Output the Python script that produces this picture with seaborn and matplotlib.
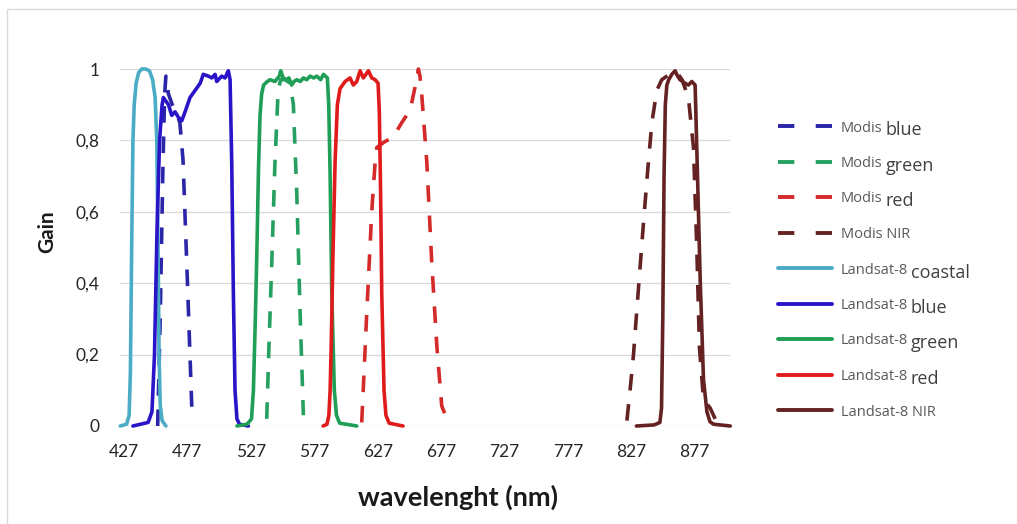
import matplotlib
matplotlib.use("Agg")
import matplotlib.pyplot as plt
import matplotlib.patches as mpatches
from matplotlib.lines import Line2D
import seaborn as sns
import numpy as np

# ---- data (wavelength in nm, relative gain) ----
modis_blue_nm = [453.5, 455.5, 457.5, 459, 460, 462, 465, 468, 471, 473.5, 477, 480.4]
modis_blue_gain = [0, 0.3, 0.7, 0.93, 0.98, 0.93, 0.9, 0.88, 0.85, 0.745, 0.4, 0.054]

modis_green_nm = [539.5, 541.5, 543.5, 546, 548.5, 550.5, 554, 558, 560.5, 563.2, 565.8, 568.4]
modis_green_gain = [0.02, 0.25, 0.46, 0.74, 0.94, 0.97, 0.97, 0.96, 0.9, 0.65, 0.32, 0.03]

modis_red_nm = [614.4, 616.5, 618.4, 620.5, 622.3, 625, 626.3, 632, 639.4, 646, 652.6,
                656.5, 659.1, 660.3, 661.8, 665.7, 669.6, 673.6, 677.5, 682.7]
modis_red_gain = [0.01, 0.17, 0.32, 0.47, 0.6, 0.74, 0.78, 0.795, 0.81, 0.85, 0.885,
                  0.95, 1.0, 0.98, 0.925, 0.74, 0.46, 0.225, 0.056, 0.01]

modis_nir_nm = [823.5, 826, 828.7, 832.5, 836.6, 840, 843.2, 847.1, 851, 855, 859, 863,
                867, 872, 876, 878.6, 880.7, 883.9, 889.2, 893.1]
modis_nir_gain = [0.015, 0.1, 0.2, 0.38, 0.57, 0.72, 0.85, 0.94, 0.97, 0.98, 0.99, 0.99,
                  0.97, 0.92, 0.78, 0.5, 0.22, 0.075, 0.05, 0.02]

l8_coastal_nm = [424, 429, 431, 432, 433, 434, 435, 436.5, 438.5, 441, 444, 447, 449.5,
                 451.5, 452.8, 453.8, 454.6, 455.5, 457, 460]
l8_coastal_gain = [0, 0.005, 0.03, 0.15, 0.5, 0.8, 0.9, 0.96, 0.99, 1.0, 1.0, 0.995, 0.97,
                   0.92, 0.8, 0.5, 0.2, 0.06, 0.015, 0]

l8_blue_nm = [434, 440, 446, 449, 451, 453, 455, 457, 458, 462, 464.6, 467.2, 469.8, 472.5,
              475.1, 479, 483, 487, 489.5, 493.5, 496.2, 498.8, 500.1, 504, 506.6, 509.2,
              510.6, 511.9, 513.2, 514.5, 516, 518, 525]
l8_blue_gain = [0, 0.005, 0.01, 0.04, 0.2, 0.55, 0.8, 0.9, 0.92, 0.9, 0.87, 0.88, 0.865, 0.855,
                0.88, 0.92, 0.94, 0.96, 0.985, 0.98, 0.975, 0.985, 0.965, 0.98, 0.975, 0.995,
                0.97, 0.74, 0.37, 0.1, 0.02, 0.005, 0]

l8_green_nm = [516, 524, 527.5, 529, 530.5, 531.6, 533, 534.2, 535.5, 537, 540, 542.1, 546,
               549.4, 550.5, 552.5, 555.3, 557, 559.2, 561, 563.2, 566, 568.4, 571, 573.7,
               576.5, 579, 582, 584.2, 587.3, 588.4, 589.5, 590.8, 592.8, 594.5, 597, 610.5]
l8_green_gain = [0, 0.005, 0.02, 0.1, 0.3, 0.465, 0.72, 0.87, 0.93, 0.955, 0.965, 0.97, 0.965,
                 0.98, 0.995, 0.975, 0.97, 0.975, 0.955, 0.965, 0.97, 0.965, 0.975, 0.97, 0.98,
                 0.975, 0.98, 0.97, 0.985, 0.975, 0.9, 0.7, 0.37, 0.1, 0.03, 0.008, 0]

l8_red_nm = [584, 587, 588.5, 589.5, 590.5, 591.6, 593.4, 595.2, 597.3, 601.3, 605.2, 607.8,
             610.5, 613.1, 615.7, 619.7, 622.3, 625, 627.3, 628.3, 629.3, 630.2, 632, 633.5,
             636, 647]
l8_red_gain = [0, 0.005, 0.03, 0.1, 0.25, 0.46, 0.74, 0.9, 0.945, 0.965, 0.975, 0.955,
               0.965, 0.995, 0.975, 0.995, 0.975, 0.97, 0.96, 0.88, 0.65, 0.37, 0.1, 0.03,
               0.008, 0]

l8_nir_nm = [831, 845, 849.5, 850.8, 851.8, 852.8, 853.8, 855, 856.5, 858.9, 861.5, 863.5,
             865.4, 869.4, 872, 874.7, 877.3, 878.6, 881.3, 883.9, 886.6, 889, 891.8, 905]
l8_nir_gain = [0, 0.003, 0.01, 0.05, 0.3, 0.7, 0.9, 0.955, 0.97, 0.985, 0.995, 0.98, 0.97,
               0.96, 0.955, 0.965, 0.955, 0.78, 0.41, 0.13, 0.04, 0.012, 0.005, 0]

# legend text: prefix (small) + band name (larger)
prefixes = ["Modis", "Modis", "Modis", "Modis NIR",
            "Landsat-8", "Landsat-8", "Landsat-8", "Landsat-8", "Landsat-8 NIR"]
suffixes = ["blue", "green", "red", "", "coastal", "blue", "green", "red", ""]

x_ticks = [427, 477, 527, 577, 627, 677, 727, 777, 827, 877]
y_ticks = [0, 0.2, 0.4, 0.6, 0.8, 1.0]
y_tick_labels = ["0", "0,2", "0,4", "0,6", "0,8", "1"]

series = [
    (modis_blue_nm, modis_blue_gain, "#2B25A8", "dash"),
    (modis_green_nm, modis_green_gain, "#25A060", "dash"),
    (modis_red_nm, modis_red_gain, "#D42A2A", "dash"),
    (modis_nir_nm, modis_nir_gain, "#652222", "dash"),
    (l8_coastal_nm, l8_coastal_gain, "#4BACC6", "solid"),
    (l8_blue_nm, l8_blue_gain, "#2A14C8", "solid"),
    (l8_green_nm, l8_green_gain, "#1F9E55", "solid"),
    (l8_red_nm, l8_red_gain, "#E01B1B", "solid"),
    (l8_nir_nm, l8_nir_gain, "#652222", "solid"),
]

sns.set_theme(style="white")
plt.rcParams['font.family'] = ['Lato', 'DejaVu Sans']

W, H = 1017, 524
fig = plt.figure(figsize=(W / 100, H / 100), dpi=100)
ax = fig.add_axes([120 / W, 1 - 426 / H, 610 / W, 357 / H])

for (nm, gain, color, style), label in zip(series, prefixes):
    ls = (0, (4.6, 3.8)) if style == "dash" else "-"
    sns.lineplot(x=nm, y=gain, ax=ax, color=color, linewidth=2.6, linestyle=ls,
                 sort=False, estimator=None, legend=False, clip_on=False,
                 solid_joinstyle='round', dash_joinstyle='round')

ax.set_xlim(423.8, 904.8)
ax.set_ylim(0, 1)
ax.set_xticks(x_ticks)
ax.set_yticks(y_ticks)
ax.set_yticklabels(y_tick_labels)
ax.tick_params(axis='both', length=0, labelsize=12.5, labelcolor='#262626')
ax.tick_params(axis='x', pad=13)
ax.tick_params(axis='y', pad=15)
ax.grid(True, axis='y', color='#D9D9D9', linewidth=0.9)
ax.set_axisbelow(True)
for sp in ax.spines.values():
    sp.set_visible(False)
ax.set_xlabel("")
ax.set_ylabel("")

fig.text(458 / W, 1 - 497 / H, "wavelenght (nm)", ha='center', va='center',
         fontsize=19.5, fontweight='bold', color='#1a1a1a')
fig.text(47 / W, 1 - 232 / H, "Gain", ha='center', va='center', rotation=90,
         fontsize=15, fontweight='bold', color='#1a1a1a')

# legend proxies
leg_handles = []
for nm, gain, color, style in series:
    if style == "dash":
        leg_handles.append(Line2D([], [], color=color, lw=2.8, linestyle=(0, (4.2, 5.5))))
    else:
        leg_handles.append(Line2D([], [], color=color, lw=2.8, linestyle='-'))

leg_fs = 10.5
leg_fs_px = leg_fs * 100 / 72
target_gap = 35.5
target_first = H - 128


def make_legend(spacing, top):
    lg = ax.legend(leg_handles, prefixes, loc='upper left',
                   bbox_to_anchor=(778 / W, top / H), bbox_transform=fig.transFigure,
                   frameon=False, prop={'family': 'Open Sans', 'size': leg_fs},
                   handlelength=3.7, handletextpad=0.6, labelspacing=spacing,
                   borderpad=0, borderaxespad=0)
    for t in lg.get_texts():
        t.set_color('#595959')
    return lg


def row_centers(lg):
    fig.canvas.draw()
    r = fig.canvas.get_renderer()
    out = []
    for t in lg.get_texts():
        bb = t.get_window_extent(r)
        out.append((bb.y0 + bb.y1) / 2)
    return out


spacing, top = 1.5, H - 113
leg = make_legend(spacing, top)
c = row_centers(leg)
gap = (c[0] - c[-1]) / (len(c) - 1)
spacing += (target_gap - gap) / leg_fs_px
leg = make_legend(spacing, top)
c = row_centers(leg)
top += target_first - c[0]
leg = make_legend(spacing, top)

# outer chart border (top and left visible)
fig.patches.append(mpatches.Rectangle((7 / W, -0.1), 1.2, 1.1 - 9 / H, transform=fig.transFigure,
                                      fill=False, edgecolor='#D9D9D9', linewidth=1))

# larger band names after the legend prefixes
fig.canvas.draw()
renderer = fig.canvas.get_renderer()
for t, suf in zip(leg.get_texts(), suffixes):
    if not suf:
        continue
    bb = t.get_window_extent(renderer)
    _, _, descent = renderer.get_text_width_height_descent(t.get_text(), t.get_fontproperties(), ismath=False)
    base = bb.y0 + descent
    fig.text((bb.x1 + 3) / W, base / H, suf, ha='left', va='baseline',
             family='Open Sans', fontsize=13, color='#404040')

fig.savefig("out.png", dpi=100)
